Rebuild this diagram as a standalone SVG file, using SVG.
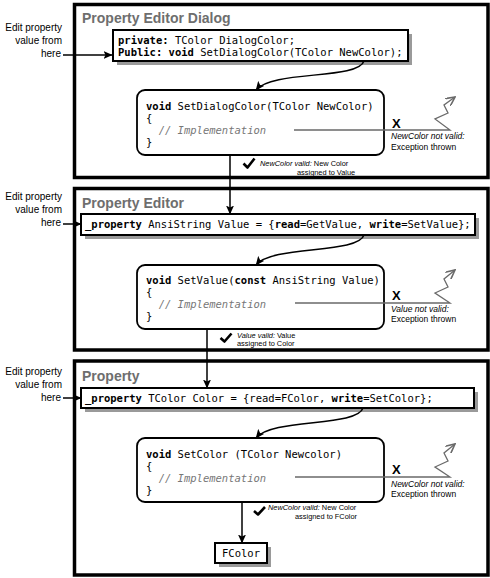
<svg xmlns="http://www.w3.org/2000/svg" width="490" height="578" viewBox="0 0 490 578">
<style>
.frame{fill:#fff;stroke:#000;stroke-width:3.5}
.title{font-family:"Liberation Sans",Arial,sans-serif;font-weight:bold;font-size:14px;fill:#6e6e6e}
.lbl{font-family:"Liberation Sans",Arial,sans-serif;font-size:10px;fill:#000}
.code{font-family:"DejaVu Sans Mono",monospace;font-size:10.5px;fill:#000}
.b{font-weight:bold}
.impl{font-style:italic;fill:#777}
.box{fill:#fff;stroke:#000;stroke-width:2}
.shadow{fill:#9a9a9a}
.meth{fill:#fff;stroke:#000;stroke-width:1.8}
.conn{fill:none;stroke:#000;stroke-width:1.5}
.exc{fill:none;stroke:#6a6a6a;stroke-width:1.3}
.check{fill:none;stroke:#000;stroke-width:2.6;stroke-linejoin:round}
.x{font-family:"Liberation Sans",Arial,sans-serif;font-weight:bold;font-size:13px;fill:#000}
.note{font-family:"Liberation Sans",Arial,sans-serif;font-size:8.5px;fill:#000}
.small{font-family:"Liberation Sans",Arial,sans-serif;font-size:7.4px;fill:#000}
.i{font-style:italic}
</style>
<defs>
<marker id="ah" markerWidth="9" markerHeight="8" refX="8.5" refY="4" orient="auto" markerUnits="userSpaceOnUse">
<path d="M0,0 L9,4 L0,8 L2,4 Z" fill="#000"/>
</marker>
<marker id="ahg" markerWidth="10" markerHeight="9" refX="9" refY="4.5" orient="auto" markerUnits="userSpaceOnUse">
<path d="M0,0 L9,4.5 L0,9" fill="none" stroke="#6a6a6a" stroke-width="1.6"/>
</marker>
</defs>
<rect width="490" height="578" fill="#fff"/>

<g id="frame-dialog">
<rect class="frame" x="74.5" y="4.5" width="413.5" height="173"/>
<text class="title" x="82" y="23">Property Editor Dialog</text>
</g>
<g id="frame-editor">
<rect class="frame" x="74.5" y="188.5" width="413.5" height="161.5"/>
<text class="title" x="82" y="208">Property Editor</text>
</g>
<g id="frame-property">
<rect class="frame" x="74.5" y="361" width="413.5" height="214"/>
<text class="title" x="82" y="381">Property</text>
</g>

<g id="label-edit-1">
<text class="lbl" text-anchor="end" x="62" y="31">Edit property</text>
<text class="lbl" text-anchor="end" x="62" y="44">value from</text>
<text class="lbl" text-anchor="end" x="61" y="57">here</text>
</g>
<g id="label-edit-2">
<text class="lbl" text-anchor="end" x="62" y="200">Edit property</text>
<text class="lbl" text-anchor="end" x="62" y="213">value from</text>
<text class="lbl" text-anchor="end" x="61" y="226">here</text>
</g>
<g id="label-edit-3">
<text class="lbl" text-anchor="end" x="62" y="375">Edit property</text>
<text class="lbl" text-anchor="end" x="62" y="388">value from</text>
<text class="lbl" text-anchor="end" x="61" y="401">here</text>
</g>

<g id="decl-dialog">
<rect class="shadow" x="117" y="34" width="295" height="31"/>
<rect class="box" x="113" y="30" width="295" height="31"/>
<text class="code" x="118" y="44"><tspan class="b">private:</tspan> TColor DialogColor;</text>
<text class="code" x="118" y="56"><tspan class="b">Public:</tspan> <tspan class="b">void</tspan> SetDialogColor(TColor NewColor);</text>
</g>
<g id="method-dialog">
<rect class="meth" x="137" y="90" width="247" height="65" rx="8"/>
<text class="code" x="146" y="110"><tspan class="b">void</tspan> SetDialogColor(TColor NewColor)</text>
<text class="code" x="146" y="122">{</text>
<text class="code impl" x="146" y="134" xml:space="preserve">  // Implementation</text>
<text class="code" x="146" y="146">}</text>
</g>

<g id="decl-editor">
<rect class="shadow" x="85" y="218" width="394" height="21"/>
<rect class="box" x="81" y="214" width="394" height="21"/>
<text class="code" x="85" y="228"><tspan class="b">_property</tspan> AnsiString Value = {<tspan class="b">read</tspan>=GetValue, <tspan class="b">write</tspan>=SetValue};</text>
</g>
<g id="method-editor">
<rect class="meth" x="137" y="265" width="247" height="64" rx="8"/>
<text class="code" x="146" y="284"><tspan class="b">void</tspan> SetValue(<tspan class="b">const</tspan> AnsiString Value)</text>
<text class="code" x="146" y="296">{</text>
<text class="code impl" x="146" y="308" xml:space="preserve">  // Implementation</text>
<text class="code" x="146" y="320">}</text>
</g>

<g id="decl-property">
<rect class="shadow" x="85" y="392" width="393" height="20"/>
<rect class="box" x="81" y="388" width="393" height="20"/>
<text class="code" x="85" y="402"><tspan class="b">_property</tspan> TColor Color = {read=FColor, <tspan class="b">write</tspan>=SetColor};</text>
</g>
<g id="method-property">
<rect class="meth" x="137" y="438" width="247" height="64" rx="8"/>
<text class="code" x="146" y="458"><tspan class="b">void</tspan> SetColor (TColor Newcolor)</text>
<text class="code" x="146" y="470">{</text>
<text class="code impl" x="146" y="482" xml:space="preserve">  // Implementation</text>
<text class="code" x="146" y="494">}</text>
</g>
<g id="fcolor">
<rect class="shadow" x="219" y="547" width="52" height="20"/>
<rect class="box" x="215" y="543" width="52" height="20"/>
<text class="code" x="241" y="557" text-anchor="middle">FColor</text>
</g>

<g id="connectors">
<path class="conn" d="M63,55 L112,55" marker-end="url(#ah)"/>
<path class="conn" d="M63,224 L81,224" marker-end="url(#ah)"/>
<path class="conn" d="M63,398 L81,398" marker-end="url(#ah)"/>
<path class="conn" d="M364,61 C358,80 272,70 256,90" marker-end="url(#ah)"/>
<path class="conn" d="M364,235 C358,254 272,245 256,265" marker-end="url(#ah)"/>
<path class="conn" d="M363,408 C357,427 272,418 256,438" marker-end="url(#ah)"/>
<path class="conn" d="M230,155 L230,214" marker-end="url(#ah)"/>
<path class="conn" d="M207,329 L207,388" marker-end="url(#ah)"/>
<path class="conn" d="M242,502 L242,543" marker-end="url(#ah)"/>
<path class="exc" d="M294,130 L450,130 L435,119 L448,113 L444,105 L455,97" marker-end="url(#ahg)"/>
<path class="exc" d="M295,303 L450,303 L435,293 L448,287 L444,279 L455,270" marker-end="url(#ahg)"/>
<path class="exc" d="M295,477 L450,477 L435,467 L448,461 L444,453 L455,444" marker-end="url(#ahg)"/>
</g>

<g id="exc-dialog">
<text class="x" x="392" y="128">X</text>
<text class="note" x="391" y="139"><tspan class="i">NewColor not valid:</tspan></text>
<text class="note" x="391" y="150">Exception thrown</text>
</g>
<g id="exc-editor">
<text class="x" x="392" y="300">X</text>
<text class="note" x="391" y="312"><tspan class="i">Value not valid:</tspan></text>
<text class="note" x="391" y="322">Exception thrown</text>
</g>
<g id="exc-property">
<text class="x" x="392" y="474">X</text>
<text class="note" x="391" y="487"><tspan class="i">NewColor not valid:</tspan></text>
<text class="note" x="391" y="497">Exception thrown</text>
</g>

<g id="ok-dialog">
<path class="check" d="M243.5,163.5 L247.5,167.5 L254.5,158.5"/>
<text class="small" x="260" y="166"><tspan class="i">NewColor valid:</tspan> New Color</text>
<text class="small" x="297" y="175">assigned to Value</text>
</g>
<g id="ok-editor">
<path class="check" d="M220.5,338 L224.5,341.5 L231.5,333.5"/>
<text class="small" x="237" y="338"><tspan class="i">Value valid:</tspan> Value</text>
<text class="small" x="237" y="346">assigned to Color</text>
</g>
<g id="ok-property">
<path class="check" d="M254,511 L258,514.5 L265,507"/>
<text class="small" x="268" y="510"><tspan class="i">NewColor valid:</tspan> New Color</text>
<text class="small" x="295" y="519">assigned to FColor</text>
</g>
</svg>
